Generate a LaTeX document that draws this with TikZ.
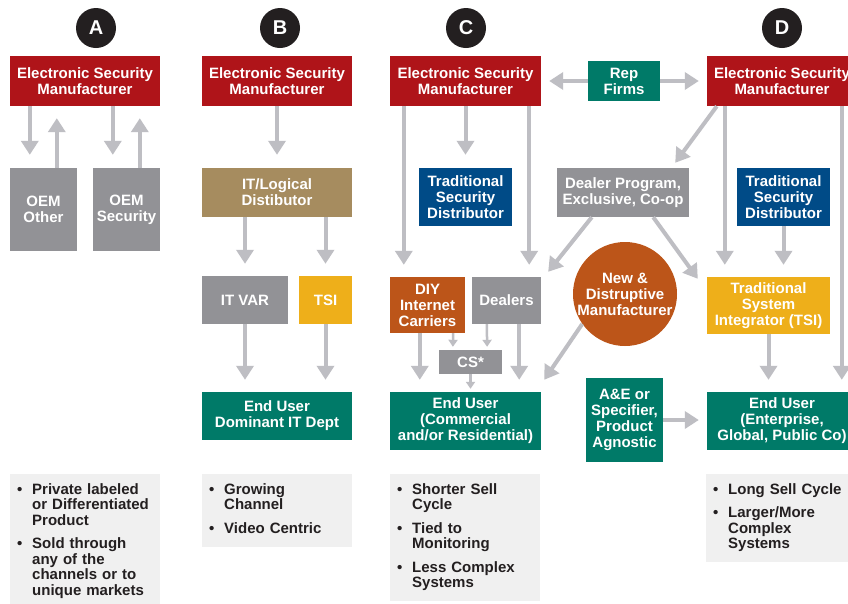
\documentclass[tikz,border=0pt]{standalone}
\usepackage{fontspec}
\setmainfont{Liberation Sans}
\usetikzlibrary{arrows.meta}

\definecolor{esred}{RGB}{175,20,25}
\definecolor{esgray}{RGB}{146,146,150}
\definecolor{estan}{RGB}{166,140,95}
\definecolor{esteal}{RGB}{0,122,104}
\definecolor{esblue}{RGB}{0,75,135}
\definecolor{esrust}{RGB}{188,85,25}
\definecolor{esgold}{RGB}{238,175,26}
\definecolor{esarrow}{RGB}{190,190,195}
\definecolor{esnote}{RGB}{240,240,240}
\definecolor{esink}{RGB}{35,31,32}

\tikzset{
  box/.style={rectangle,inner sep=0pt,align=center,text=white,
    font=\bfseries\fontsize{15}{16}\selectfont},
  flow/.style={draw=esarrow,line width=4pt,-{Triangle[width=17pt,length=14pt]}},
  thinflow/.style={draw=esarrow,line width=2.5pt,-{Triangle[width=9pt,length=7pt]}},
  letter/.style={circle,fill=esink,text=white,minimum size=40pt,inner sep=0pt,
    font=\bfseries\fontsize{20}{20}\selectfont},
  notes/.style={rectangle,fill=esnote,anchor=north west,inner xsep=7pt,inner ysep=9pt,
    text width=136pt,align=left,text=esink,font=\bfseries\fontsize{15}{15.5}\selectfont}
}
\newcommand{\bpt}{\makebox[15pt][l]{\textbullet}}

\begin{document}
\begin{tikzpicture}[x=1pt,y=-1pt]
\path[use as bounding box] (0,0) rectangle (848,603);
\fill[white] (0,0) rectangle (848,603);
\clip (0,0) rectangle (848,603);

% column letters
\node[letter] (lblA) at (96,28) {A};
\node[letter] (lblB) at (280,28) {B};
\node[letter] (lblC) at (466,28) {C};
\node[letter] (lblD) at (782,28) {D};

% column A
\node[box,fill=esred,minimum width=150pt,minimum height=50pt] (escA) at (85,81) {Electronic Security\\Manufacturer};
\node[box,fill=esgray,minimum width=67pt,minimum height=83pt] (oemO) at (43.5,209.5) {OEM\\Other};
\node[box,fill=esgray,minimum width=67pt,minimum height=83pt] (oemS) at (126.5,209.5) {OEM\\Security};
\draw[flow,shorten >=13pt] ([xshift=20pt]escA.south west) -- ([xshift=20pt]oemO.north west);
\draw[flow,shorten >=12pt] ([xshift=47pt]oemO.north west) -- ([xshift=47pt]escA.south west);
\draw[flow,shorten >=13pt] ([xshift=103pt]escA.south west) -- ([xshift=20pt]oemS.north west);
\draw[flow,shorten >=12pt] ([xshift=47pt]oemS.north west) -- ([xshift=130pt]escA.south west);

% column B
\node[box,fill=esred,minimum width=150pt,minimum height=50pt] (escB) at (277,81) {Electronic Security\\Manufacturer};
\node[box,fill=estan,minimum width=150pt,minimum height=49pt] (itDist) at (277,192.5) {IT/Logical\\Distibutor};
\node[box,fill=esgray,minimum width=86pt,minimum height=48pt] (itVar) at (245,300) {IT VAR};
\node[box,fill=esgold,minimum width=53pt,minimum height=48pt] (tsiB) at (325.5,300) {TSI};
\node[box,fill=esteal,minimum width=150pt,minimum height=48pt] (euB) at (277,416) {End User\\Dominant IT Dept};
\draw[flow,shorten >=13pt] (escB.south) -- (itDist.north);
\draw[flow,shorten >=12pt] (itDist.south -| itVar) -- (itVar.north);
\draw[flow,shorten >=12pt] (itDist.south -| tsiB) -- (tsiB.north);
\draw[flow,shorten >=12pt] (itVar.south) -- (euB.north -| itVar);
\draw[flow,shorten >=12pt] (tsiB.south) -- (euB.north -| tsiB);

% column C
\node[box,fill=esred,minimum width=151pt,minimum height=50pt] (escC) at (465.5,81) {Electronic Security\\Manufacturer};
\node[box,fill=esteal,minimum width=72pt,minimum height=40pt] (rep) at (624,81) {Rep\\Firms};
\node[box,fill=esblue,minimum width=93pt,minimum height=58pt] (tsdC) at (465.5,197) {Traditional\\Security\\Distributor};
\node[box,fill=esgray,minimum width=132pt,minimum height=49pt] (dealProg) at (623,192.5) {Dealer Program,\\Exclusive, Co-op};
\node[box,fill=esrust,minimum width=75pt,minimum height=56pt] (diy) at (427.5,305) {DIY\\Internet\\Carriers};
\node[box,fill=esgray,minimum width=69pt,minimum height=47pt] (dealers) at (506.5,300.5) {Dealers};
\node[box,circle,fill=esrust,minimum size=104pt] (newMfr) at (625,294) {New \&\\Distruptive\\Manufacturer};
\node[box,fill=esgray,minimum width=63pt,minimum height=24pt] (cs) at (470.5,362) {CS*};
\node[box,fill=esteal,minimum width=151pt,minimum height=58pt] (euC) at (465.5,421) {End User\\(Commercial\\and/or Residential)};
\node[box,fill=esteal,minimum width=77pt,minimum height=84pt] (ae) at (624.5,420) {A\&E or\\Specifier,\\Product\\Agnostic};

% column D
\node[box,fill=esred,minimum width=150pt,minimum height=50pt] (escD) at (782,81) {Electronic Security\\Manufacturer};
\node[box,fill=esblue,minimum width=93pt,minimum height=58pt] (tsdD) at (783.5,197) {Traditional\\Security\\Distributor};
\node[box,fill=esgold,minimum width=123pt,minimum height=57pt] (tsiD) at (768.5,305.5) {Traditional\\System\\Integrator (TSI)};
\node[box,fill=esteal,minimum width=150pt,minimum height=58pt] (euD) at (782,421) {End User\\(Enterprise,\\Global, Public Co)};

% connectors C
\draw[flow,shorten >=8pt] (rep.west) -- (escC.east);
\draw[flow,shorten >=8pt] (rep.east) -- (escD.west);
\draw[flow,shorten >=12pt] ([xshift=14pt]escC.south west) -- ([xshift=14pt]diy.north west);
\draw[flow,shorten >=13pt] (escC.south) -- (tsdC.north);
\draw[flow,shorten >=12pt] ([xshift=-12pt]escC.south east) -- ([xshift=-12pt]dealers.north east);
\draw[flow] ([xshift=10pt]escD.south west) -- ([xshift=-14pt,yshift=5pt]dealProg.north east);
\draw[flow] ([xshift=35pt]dealProg.south west) -- ([xshift=7pt,yshift=5pt]dealers.north east);
\draw[flow] ([xshift=-36pt]dealProg.south east) -- ([xshift=-9pt,yshift=-2pt]tsiD.north west);
\draw[flow] (newMfr.215) -- ([xshift=3pt,yshift=12pt]euC.north east);
\draw[flow,shorten >=12pt] ([xshift=30pt]diy.south west) -- ([xshift=30pt]euC.north west);
\draw[flow,shorten >=12pt] ([xshift=-22pt]dealers.south east) -- ([xshift=-22pt]euC.north east);
\draw[thinflow,shorten >=3pt] ([xshift=-12pt]diy.south east) -- ([xshift=14pt]cs.north west);
\draw[thinflow,shorten >=3pt] ([xshift=15pt]dealers.south west) -- ([xshift=-15pt]cs.north east);
\draw[thinflow,shorten >=3pt] (cs.south) -- (euC.north -| cs);
\draw[flow,shorten >=8pt] (ae.east) -- (ae.east -| euD.west);

% connectors D
\draw[flow,shorten >=12pt] ([xshift=18pt]escD.south west) -- ([xshift=18pt]tsiD.north west);
\draw[flow,shorten >=12pt] ([xshift=135pt]escD.south west) -- ([xshift=135pt]euD.north west);
\draw[flow,shorten >=12pt] (tsdD.south) -- (tsiD.north -| tsdD);
\draw[flow,shorten >=12pt] (tsiD.south) -- (euD.north -| tsiD);

% notes
\node[notes] (noteA) at (10,474) {\begin{tabular}{@{}l@{}l@{}}
\bpt & Private labeled\\ & or Differentiated\\ & Product\\[8pt]
\bpt & Sold through\\ & any of the\\ & channels or to\\ & unique markets\\[8pt]
\end{tabular}};
\node[notes] (noteB) at (202,474) {\begin{tabular}{@{}l@{}l@{}}
\bpt & Growing\\ & Channel\\[8pt]
\bpt & Video Centric
\end{tabular}};
\node[notes] (noteC) at (390,474) {\begin{tabular}{@{}l@{}l@{}}
\bpt & Shorter Sell\\ & Cycle\\[8pt]
\bpt & Tied to\\ & Monitoring\\[8pt]
\bpt & Less Complex\\ & Systems
\end{tabular}};
\node[notes] (noteD) at (706,474) {\begin{tabular}{@{}l@{}l@{}}
\bpt & Long Sell Cycle\\[8pt]
\bpt & Larger/More\\ & Complex\\ & Systems
\end{tabular}};
\end{tikzpicture}
\end{document}
